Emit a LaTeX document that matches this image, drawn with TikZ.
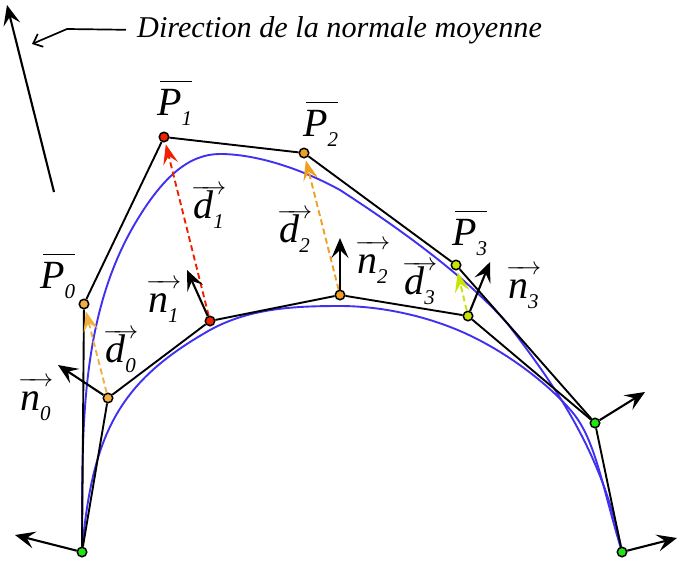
\documentclass[tikz,border=0pt]{standalone}
\usepackage{fontspec}
\setmainfont{Liberation Serif}
\usetikzlibrary{arrows.meta}
\definecolor{Rouge}{RGB}{240,32,0}
\definecolor{Orange}{RGB}{240,160,32}
\definecolor{OrangePale}{RGB}{240,176,64}
\definecolor{JauneVert}{RGB}{200,228,0}
\definecolor{Vert}{RGB}{32,228,16}
\definecolor{BleuCourbe}{RGB}{64,48,240}
\newcommand{\sous}[1]{\raisebox{-10pt}{\fontsize{21}{21}\selectfont\itshape #1}}
\newcommand{\barP}[1]{\rlap{\hspace{3pt}\rule[33pt]{32pt}{1.5pt}}\textit{P}\sous{#1}}
\newcommand{\vecteur}[2]{\rlap{\hspace{-2pt}\raisebox{24pt}{\fontsize{24}{24}\selectfont\makebox[35pt]{\rightarrowfill}}}\textit{#1}\sous{#2}}
\tikzset{
  pt/.style={circle, draw=black, line width=1.5pt, fill=#1, minimum size=9.5pt, inner sep=0pt},
  bord/.style={line width=1.9pt, black},
  courbe/.style={line width=1.9pt, BleuCourbe},
  normale/.style={-{Stealth[length=20pt, width=17pt, inset=8pt]}, line width=2.1pt, black},
  depl/.style={-{Stealth[length=20pt, width=15pt, inset=8pt]}, line width=1.9pt, dash pattern=on 6pt off 3.5pt, shorten >=2pt, #1},
  etiq/.style={anchor=base west, inner sep=0pt, font=\fontsize{40}{40}\selectfont},
}
\begin{document}
\begin{tikzpicture}[x=1pt, y=-1pt]
  \useasboundingbox (0,0) rectangle (677,560);
  % courbes
  \draw[courbe] (82,552) .. controls (82,430) and (80,320) .. (133,227)
    .. controls (163,175) and (190,154) .. (220,154)
    .. controls (255,154) and (300,168) .. (340,190)
    .. controls (380,216) and (458,268) .. (507,323)
    .. controls (553,383) and (603,452) .. (622,552);
  \draw[courbe] (82,552) .. controls (92,430) and (122,380) .. (210,330)
    .. controls (250,308) and (295,306) .. (340,306)
    .. controls (385,306) and (435,318) .. (473,337)
    .. controls (510,355) and (550,385) .. (573,413)
    .. controls (596,441) and (603,490) .. (622,552);
  % points
  \node[pt=Vert] (a0) at (82,552) {};
  \node[pt=Vert] (a1) at (622,552) {};
  \node[pt=Vert] (c) at (595,423) {};
  \node[pt=OrangePale] (q0) at (108,398) {};
  \node[pt=Rouge] (q1) at (210,321) {};
  \node[pt=Orange] (q2) at (340,295) {};
  \node[pt=JauneVert] (q3) at (468,316) {};
  \node[pt=OrangePale] (p0) at (84,304) {};
  \node[pt=Rouge] (p1) at (164,137) {};
  \node[pt=Orange] (p2) at (304,153) {};
  \node[pt=JauneVert] (p3) at (456,265) {};
  % polygones
  \draw[bord] (a0) -- (p0) -- (p1) -- (p2) -- (p3) -- (c) -- (a1);
  \draw[bord] (a0) -- (q0) -- (q1) -- (q2) -- (q3) -- (c);
  % deplacements
  \draw[depl=OrangePale] (q0) -- (p0);
  \draw[depl=Rouge] (q1) -- (p1);
  \draw[depl=Orange] (q2) -- (p2);
  \draw[depl=JauneVert] (q3) -- (p3);
  % normales
  \coordinate (na0) at (15,535);
  \coordinate (nq0) at (58,365);
  \coordinate (nq1) at (187,270);
  \coordinate (nq2) at (340,238);
  \coordinate (nq3) at (490,262);
  \coordinate (nc) at (645,392);
  \coordinate (na1) at (677,538);
  \draw[normale] (a0) -- (na0);
  \draw[normale] (q0) -- (nq0);
  \draw[normale] (q1) -- (nq1);
  \draw[normale] (q2) -- (nq2);
  \draw[normale] (q3) -- (nq3);
  \draw[normale] (c) -- (nc);
  \draw[normale] (a1) -- (na1);
  % direction moyenne
  \coordinate (dbas) at (54,192);
  \coordinate (dhaut) at (7,5);
  \draw[normale] (dbas) -- (dhaut);
  \node[etiq, font=\fontsize{30.2}{30.2}\selectfont\itshape] (dir) at (137,37) {Direction de la normale moyenne};
  \coordinate (coude) at (67,29);
  \coordinate (pointe) at (32,44);
  \draw[{Straight Barb[length=8pt, width=14pt]}-, line width=1.7pt] (pointe) -- (coude) -- ([xshift=-11pt]dir.west);
  % etiquettes
  \node[etiq] (lp0) at (40,288) {\barP{0}};
  \node[etiq] (lp1) at (157,115) {\barP{1}};
  \node[etiq] (lp2) at (303,136) {\barP{2}};
  \node[etiq] (lp3) at (452,245) {\barP{3}};
  \node[etiq] (ld0) at (105,362) {\vecteur{d}{0}};
  \node[etiq] (ld1) at (193,218) {\vecteur{d}{1}};
  \node[etiq] (ld2) at (279,242) {\vecteur{d}{2}};
  \node[etiq] (ld3) at (404,294) {\vecteur{d}{3}};
  \node[etiq] (ln0) at (20,410) {\vecteur{n}{0}};
  \node[etiq] (ln1) at (148,312) {\vecteur{n}{1}};
  \node[etiq] (ln2) at (357,273) {\vecteur{n}{2}};
  \node[etiq] (ln3) at (508,298) {\vecteur{n}{3}};
\end{tikzpicture}
\end{document}
